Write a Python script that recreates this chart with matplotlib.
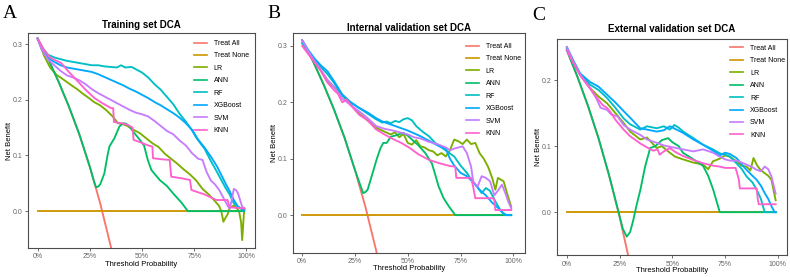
import matplotlib
matplotlib.use("Agg")
import matplotlib.pyplot as plt

plt.rcParams['font.family'] = ['Liberation Sans', 'DejaVu Sans']

labels = ["Treat All", "Treat None", "LR", "ANN", "RF", "XGBoost", "SVM", "KNN"]
colors = ["#F8766D", "#CD9600", "#7CAE00", "#00BE67", "#00BFC4", "#00A9FF", "#C77CFF", "#FF61CC"]

# ---------------- Panel A: Training set ----------------
A_all_t = [0, .05, .10, .15, .20, .25, .30, .35, .40]
A_all_nb = [.31, .274, .233, .188, .138, .08, .014, -.062, -.15]
A_none_t = [0, .99]
A_none_nb = [0, 0]
A_LR_t = [0, .03, .06, .09, .11, .14, .17, .19, .22, .25, .27, .30, .33, .36, .385, .41, .43, .46, .49, .52, .55, .58, .61, .64, .67, .70, .73, .76, .79, .82, .85, .87, .88, .89, .90, .91, .92, .94, .955, .965, .975, .98, .99]
A_LR_nb = [.31, .28, .258, .245, .24, .232, .224, .219, .21, .202, .196, .19, .181, .17, .158, .156, .153, .146, .14, .131, .122, .115, .103, .094, .085, .075, .066, .055, .04, .03, .018, .009, .0, -.019, -.012, -.006, .006, .01, .005, .0, -.02, -.052, .005]
A_ANN_t = [0, .05, .10, .15, .20, .25, .27, .28, .29, .30, .32, .335, .344, .368, .392, .41, .424, .44, .464, .49, .51, .528, .545, .585, .62, .649, .69, .72, .99]
A_ANN_nb = [.31, .274, .233, .188, .138, .08, .054, .043, .044, .048, .068, .1, .116, .131, .152, .158, .157, .152, .140, .128, .118, .092, .074, .056, .045, .032, .015, 0, 0]
A_RF_t = [0, .02, .05, .08, .11, .14, .17, .20, .23, .26, .29, .32, .35, .38, .40, .42, .45, .48, .50, .53, .56, .59, .62, .65, .68, .71, .74, .76, .78, .80, .83, .86, .88, .90, .92, .94, .96, .98, .99]
A_RF_nb = [.31, .295, .281, .276, .273, .27, .268, .266, .264, .262, .262, .260, .259, .258, .262, .258, .259, .253, .249, .24, .228, .218, .205, .192, .175, .161, .145, .132, .122, .112, .09, .07, .056, .042, .03, .014, .008, .004, .003]
A_XGB_t = [0, .02, .05, .08, .11, .14, .17, .20, .23, .26, .29, .32, .35, .38, .41, .44, .47, .50, .53, .56, .59, .62, .65, .68, .71, .74, .77, .80, .83, .86, .88, .90, .92, .94, .96, .98, .99]
A_XGB_nb = [.31, .292, .275, .268, .262, .258, .256, .254, .252, .25, .246, .241, .236, .231, .226, .22, .215, .209, .203, .196, .19, .183, .176, .168, .158, .146, .128, .114, .098, .08, .065, .05, .036, .02, .008, .003, .002]
A_SVM_t = [0, .02, .05, .08, .11, .14, .17, .20, .23, .26, .29, .32, .35, .38, .41, .44, .47, .50, .53, .56, .59, .62, .65, .68, .71, .74, .77, .79, .81, .83, .85, .87, .89, .91, .92, .93, .94, .95, .96, .97, .98, .99]
A_SVM_nb = [.31, .29, .272, .262, .252, .244, .24, .235, .228, .219, .212, .206, .2, .194, .188, .182, .177, .174, .17, .162, .153, .144, .138, .127, .118, .104, .094, .092, .07, .055, .048, .038, .024, .01, .004, .02, .04, .038, .032, .02, .008, .005]
A_KNN_t = [0, .03, .06, .09, .113, .15, .193, .23, .273, .31, .352, .362, .366, .40, .432, .455, .46, .49, .53, .55, .553, .60, .633, .64, .69, .73, .737, .80, .857, .91, .92, .99]
A_KNN_nb = [.31, .29, .276, .27, .266, .25, .233, .218, .203, .194, .185, .185, .16, .158, .155, .15, .128, .124, .118, .116, .095, .093, .092, .062, .059, .056, .038, .03, .02, .02, .007, .005]

# ---------------- Panel B: Internal validation set ----------------
B_all_t = [0, .05, .10, .15, .20, .25, .30, .35, .40]
B_all_nb = [.31, .274, .233, .188, .138, .08, .014, -.062, -.15]
B_none_t = [0, .99]
B_none_nb = [0, 0]
B_LR_t = [0, .03, .06, .09, .12, .15, .19, .23, .27, .31, .35, .39, .42, .44, .46, .48, .50, .52, .54, .56, .58, .60, .62, .64, .66, .68, .70, .72, .74, .76, .78, .80, .82, .84, .86, .88, .90, .915, .927, .954, .97, .99]
B_LR_nb = [.305, .29, .272, .255, .236, .228, .213, .196, .18, .168, .155, .148, .143, .147, .138, .144, .128, .125, .133, .122, .12, .115, .113, .106, .11, .104, .115, .134, .131, .126, .134, .126, .128, .11, .1, .086, .066, .045, .066, .06, .039, .015]
B_ANN_t = [0, .05, .10, .15, .20, .25, .28, .289, .30, .31, .33, .352, .37, .384, .40, .42, .45, .478, .50, .52, .55, .583, .614, .63, .646, .67, .694, .725, .99]
B_ANN_nb = [.31, .274, .233, .188, .138, .08, .048, .039, .041, .045, .07, .098, .118, .128, .128, .139, .142, .146, .141, .134, .124, .11, .092, .072, .051, .03, .016, 0, 0]
B_RF_t = [0, .03, .06, .09, .12, .15, .19, .23, .27, .31, .35, .38, .40, .42, .44, .46, .48, .50, .52, .54, .57, .60, .63, .66, .69, .72, .75, .78, .80, .83, .85, .87, .89, .90, .92, .94, .96, .99]
B_RF_nb = [.305, .29, .275, .262, .25, .235, .212, .2, .19, .18, .17, .164, .166, .163, .167, .165, .17, .172, .168, .158, .148, .14, .128, .12, .112, .104, .088, .075, .063, .05, .039, .048, .043, .035, .021, .008, 0.0, 0.0]
B_XGB_t = [0, .03, .06, .09, .12, .15, .19, .23, .27, .31, .35, .38, .41, .44, .47, .50, .53, .56, .59, .62, .65, .68, .70, .72, .75, .78, .81, .84, .87, .90, .93, .95, .97, .99]
B_XGB_nb = [.31, .292, .277, .265, .255, .238, .214, .2, .19, .182, .172, .166, .162, .158, .154, .15, .145, .14, .134, .128, .122, .118, .1, .088, .075, .069, .058, .045, .035, .022, .012, .004, 0, 0]
B_SVM_t = [0, .03, .06, .09, .12, .15, .19, .23, .27, .31, .35, .39, .43, .47, .50, .53, .56, .60, .64, .68, .70, .72, .74, .76, .78, .80, .81, .83, .85, .87, .89, .91, .93, .946, .962, .975, .99]
B_SVM_nb = [.31, .29, .272, .257, .24, .228, .207, .195, .184, .172, .158, .153, .15, .146, .143, .138, .136, .13, .126, .12, .115, .118, .12, .122, .11, .086, .06, .05, .069, .066, .06, .035, .045, .054, .039, .025, .012]
B_KNN_t = [0, .03, .06, .09, .12, .15, .17, .19, .21, .23, .27, .31, .35, .39, .43, .47, .51, .55, .60, .65, .70, .725, .73, .80, .81, .82, .90, .91, .915, .99]
B_KNN_nb = [.30, .285, .27, .255, .235, .222, .215, .2, .205, .195, .178, .168, .152, .143, .135, .128, .119, .108, .098, .092, .087, .086, .066, .066, .05, .03, .03, .028, .009, .009]

# ---------------- Panel C: External validation set ----------------
C_all_t = [0, .05, .10, .15, .20, .25, .30, .35]
C_all_nb = [.245, .205, .161, .112, .056, -.007, -.079, -.16]
C_none_t = [0, .99]
C_none_nb = [0, 0]
C_LR_t = [0, .03, .063, .11, .15, .19, .23, .269, .30, .348, .38, .426, .45, .488, .513, .55, .60, .646, .67, .693, .725, .75, .773, .804, .83, .852, .87, .885, .90, .915, .938, .955, .97, .99]
C_LR_nb = [.248, .228, .208, .188, .175, .165, .15, .135, .122, .11, .113, .097, .1, .09, .084, .08, .075, .072, .065, .077, .081, .086, .084, .077, .07, .069, .063, .082, .072, .065, .059, .055, .049, .018]
C_ANN_t = [0, .05, .10, .15, .20, .25, .265, .284, .30, .315, .33, .348, .371, .395, .42, .45, .48, .50, .53, .55, .60, .646, .67, .693, .725, .99]
C_ANN_nb = [.245, .205, .161, .112, .056, -.006, -.025, -.037, -.03, -.012, .01, .033, .069, .097, .1, .109, .112, .106, .1, .09, .08, .07, .055, .035, 0, 0]
C_RF_t = [0, .03, .063, .11, .15, .19, .23, .269, .30, .348, .38, .426, .46, .488, .51, .53, .551, .60, .646, .693, .725, .75, .773, .804, .83, .852, .88, .90, .92, .938, .99]
C_RF_nb = [.248, .228, .208, .193, .185, .173, .158, .142, .133, .125, .13, .127, .13, .125, .132, .128, .122, .112, .102, .095, .089, .087, .084, .074, .065, .054, .045, .034, .02, 0, 0]
C_XGB_t = [0, .03, .063, .11, .15, .19, .23, .269, .30, .348, .38, .426, .46, .488, .52, .551, .60, .646, .693, .725, .75, .773, .804, .83, .852, .88, .90, .92, .938, .955, .97, .985, .99]
C_XGB_nb = [.25, .23, .21, .197, .19, .178, .166, .153, .143, .127, .125, .122, .124, .13, .125, .12, .11, .102, .093, .086, .09, .088, .082, .072, .064, .055, .049, .04, .029, .02, .009, 0, 0]
C_SVM_t = [0, .03, .063, .11, .14, .16, .19, .21, .24, .269, .30, .348, .38, .426, .46, .488, .52, .551, .60, .646, .693, .725, .75, .773, .804, .83, .852, .88, .90, .92, .938, .955, .97, .99]
C_SVM_nb = [.25, .228, .208, .188, .172, .158, .155, .148, .145, .132, .125, .117, .11, .105, .101, .099, .097, .095, .092, .095, .09, .084, .08, .078, .078, .075, .072, .068, .064, .062, .069, .065, .054, .028]
C_KNN_t = [0, .03, .063, .11, .15, .17, .19, .21, .23, .269, .30, .348, .38, .41, .43, .44, .46, .488, .52, .551, .60, .646, .70, .725, .75, .80, .815, .82, .90, .905, .91, .99]
C_KNN_nb = [.245, .226, .207, .187, .17, .162, .158, .15, .14, .125, .115, .104, .098, .093, .095, .087, .092, .097, .09, .085, .079, .074, .07, .069, .067, .067, .05, .036, .036, .02, .012, .012]

x_ticks = [0, .25, .5, .75, 1.0]
x_ticklabels = ["0%", "25%", "50%", "75%", "100%"]

panels = [
    dict(letter="A", title="Training set DCA",
         rect=[0.0354, 0.105, 0.287, 0.776], ylim=(-0.066, 0.32), xlim=(-0.046, 1.04),
         yticks=[0.0, 0.1, 0.2, 0.3],
         series=[(A_all_t, A_all_nb), (A_none_t, A_none_nb), (A_LR_t, A_LR_nb), (A_ANN_t, A_ANN_nb),
                 (A_RF_t, A_RF_nb), (A_XGB_t, A_XGB_nb), (A_SVM_t, A_SVM_nb), (A_KNN_t, A_KNN_nb)],
         letter_xy=(3 / 790, 1 - 18 / 277), title_y=1 - 25 / 277, xlab_y=1 - 265 / 277, ylab_x=10 / 790,
         leg=(0.731, 0.967)),
    dict(letter="B", title="Internal validation set DCA",
         rect=[0.371, 0.087, 0.294, 0.794], ylim=(-0.067, 0.323), xlim=(-0.043, 1.057),
         yticks=[0.0, 0.1, 0.2, 0.3],
         series=[(B_all_t, B_all_nb), (B_none_t, B_none_nb), (B_LR_t, B_LR_nb), (B_ANN_t, B_ANN_nb),
                 (B_RF_t, B_RF_nb), (B_XGB_t, B_XGB_nb), (B_SVM_t, B_SVM_nb), (B_KNN_t, B_KNN_nb)],
         letter_xy=(267 / 790, 1 - 18 / 277), title_y=1 - 28 / 277, xlab_y=1 - 268 / 277, ylab_x=274 / 790,
         leg=(0.743, 0.954)),
    dict(letter="C", title="External validation set DCA",
         rect=[0.705, 0.079, 0.291, 0.780], ylim=(-0.065, 0.262), xlim=(-0.047, 1.043),
         yticks=[0.0, 0.1, 0.2],
         series=[(C_all_t, C_all_nb), (C_none_t, C_none_nb), (C_LR_t, C_LR_nb), (C_ANN_t, C_ANN_nb),
                 (C_RF_t, C_RF_nb), (C_XGB_t, C_XGB_nb), (C_SVM_t, C_SVM_nb), (C_KNN_t, C_KNN_nb)],
         letter_xy=(532 / 790, 1 - 20 / 277), title_y=1 - 29 / 277, xlab_y=1 - 270 / 277, ylab_x=538 / 790,
         leg=(0.752, 0.973)),
]

fig = plt.figure(figsize=(7.9, 2.77), dpi=100)
for p in panels:
    ax = fig.add_axes(p["rect"])
    for (t, nb), lab, col in zip(p["series"], labels, colors):
        ax.plot(t, nb, color=col, lw=1.35, label=lab, solid_joinstyle='round')
    ax.set_xlim(*p["xlim"])
    ax.set_ylim(*p["ylim"])
    ax.set_xticks(x_ticks)
    ax.set_xticklabels(x_ticklabels)
    ax.set_yticks(p["yticks"])
    ax.set_yticklabels([f"{v:.1f}" for v in p["yticks"]])
    ax.tick_params(labelsize=5, labelcolor="#666666", color="#555555", length=2, width=0.6, pad=2)
    for s in ax.spines.values():
        s.set_color("#4D4D4D")
        s.set_linewidth(0.8)
    leg = ax.legend(loc="upper left", bbox_to_anchor=p["leg"], frameon=False, fontsize=5,
                    handlelength=1.9, handletextpad=1.0, labelspacing=0.78,
                    borderpad=0, borderaxespad=0)
    for line in leg.get_lines():
        line.set_linewidth(1.2)
    r = p["rect"]
    cx = r[0] + r[2] / 2
    cy = r[1] + r[3] / 2
    fig.text(cx, p["title_y"], p["title"], ha="center", va="center", fontsize=7, fontweight="bold")
    fig.text(cx, p["xlab_y"], "Threshold Probability", ha="center", va="center", fontsize=5.5)
    fig.text(p["ylab_x"], cy, "Net Benefit", ha="center", va="center", rotation=90, fontsize=5.5)
    fig.text(p["letter_xy"][0], p["letter_xy"][1], p["letter"], ha="left", va="baseline",
             fontsize=14, family=["Liberation Serif", "DejaVu Serif"])

fig.savefig("out.png", dpi=100)
